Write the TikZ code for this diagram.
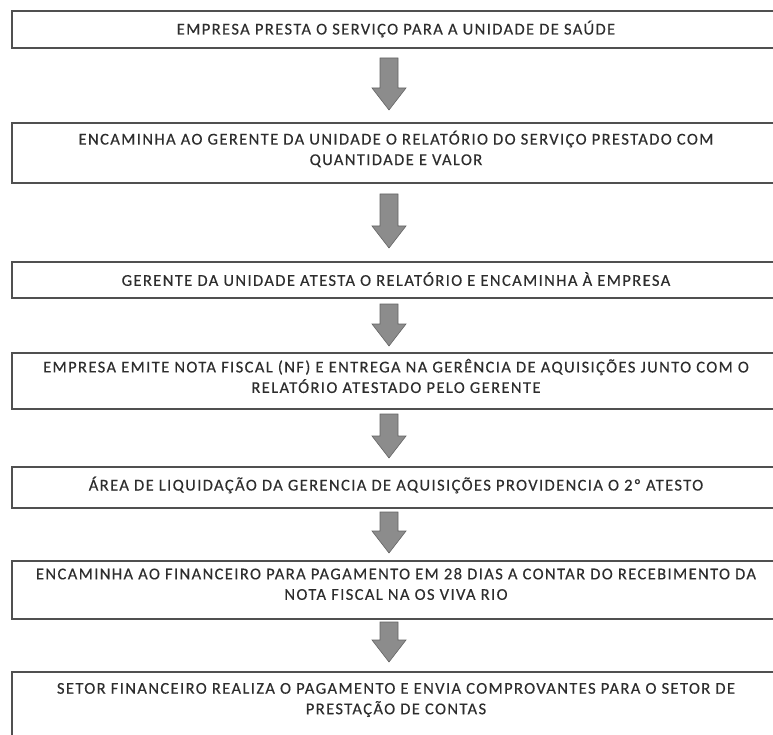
\documentclass[tikz,border=0pt]{standalone}
\usepackage{fontspec}
\setmainfont{Carlito}[LetterSpace=8.5,FakeBold=0.4]
\usetikzlibrary{calc}
\definecolor{boxline}{RGB}{80,80,80}
\definecolor{txtcol}{RGB}{45,45,45}
\definecolor{arrfill}{RGB}{140,140,140}
\definecolor{arredge}{RGB}{100,100,100}
\begin{document}
\begin{tikzpicture}[x=1pt,y=-1pt,
  box/.style={draw=boxline, line width=1.6pt, anchor=north west, inner sep=0pt, minimum width=770},
  txt/.style={text=txtcol, align=center, font=\fontsize{16.5}{20.5}\selectfont, inner sep=0pt},
  blockarrow/.style={fill=arrfill, draw=arredge, line width=0.6pt, line join=miter,
    to path={let \p1=(\tikztostart), \p2=(\tikztotarget) in
      (\x1-9,\y1) -- (\x1+9,\y1) -- (\x1+9,\y2+22) -- (\x1+17,\y2+22) -- (\x1,\y2)
      -- (\x1-17,\y2+22) -- (\x1-9,\y2+22) -- cycle}}]
\useasboundingbox (0,0) rectangle (773,735);
\clip (0,0) rectangle (773,735);
% boxes
\node[box, minimum height=37] (b1) at (11,10) {};
\node[box, minimum height=60] (b2) at (11,122) {};
\node[box, minimum height=36] (b3) at (11,261) {};
\node[box, minimum height=56] (b4) at (11,352) {};
\node[box, minimum height=41] (b5) at (11,466) {};
\node[box, minimum height=58] (b6) at (11,560) {};
\node[box, minimum height=90] (b7) at (11,671) {};
% texts
\node[txt] (t1) at (396,29) {EMPRESA PRESTA O SERVIÇO PARA A UNIDADE DE SAÚDE};
\node[txt] (t2) at (396,149) {ENCAMINHA AO GERENTE DA UNIDADE O RELATÓRIO DO SERVIÇO PRESTADO COM\\QUANTIDADE E VALOR};
\node[txt] (t3) at (396,279) {GERENTE DA UNIDADE ATESTA O RELATÓRIO E ENCAMINHA À EMPRESA};
\node[txt] (t4) at (396,376) {EMPRESA EMITE NOTA FISCAL (NF) E ENTREGA NA GERÊNCIA DE AQUISIÇÕES JUNTO COM O\\RELATÓRIO ATESTADO PELO GERENTE};
\node[txt] (t5) at (396,485) {ÁREA DE LIQUIDAÇÃO DA GERENCIA DE AQUISIÇÕES PROVIDENCIA O 2º ATESTO};
\node[txt] (t6) at (396,584) {ENCAMINHA AO FINANCEIRO PARA PAGAMENTO EM 28 DIAS A CONTAR DO RECEBIMENTO DA\\NOTA FISCAL NA OS VIVA RIO};
\node[txt] (t7) at (396,700) {SETOR FINANCEIRO REALIZA O PAGAMENTO E ENVIA COMPROVANTES PARA O SETOR DE\\PRESTAÇÃO DE CONTAS};
% arrow ends
\coordinate (a1s) at (389,58);  \coordinate (a1e) at (389,110);
\coordinate (a2s) at (389,194); \coordinate (a2e) at (389,248);
\coordinate (a3s) at (389,304); \coordinate (a3e) at (389,346);
\coordinate (a4s) at (389,414); \coordinate (a4e) at (389,458);
\coordinate (a5s) at (389,512); \coordinate (a5e) at (389,553);
\coordinate (a6s) at (389,622); \coordinate (a6e) at (389,662);
\draw[blockarrow] (a1s) to (a1e);
\draw[blockarrow] (a2s) to (a2e);
\draw[blockarrow] (a3s) to (a3e);
\draw[blockarrow] (a4s) to (a4e);
\draw[blockarrow] (a5s) to (a5e);
\draw[blockarrow] (a6s) to (a6e);
\end{tikzpicture}
\end{document}
